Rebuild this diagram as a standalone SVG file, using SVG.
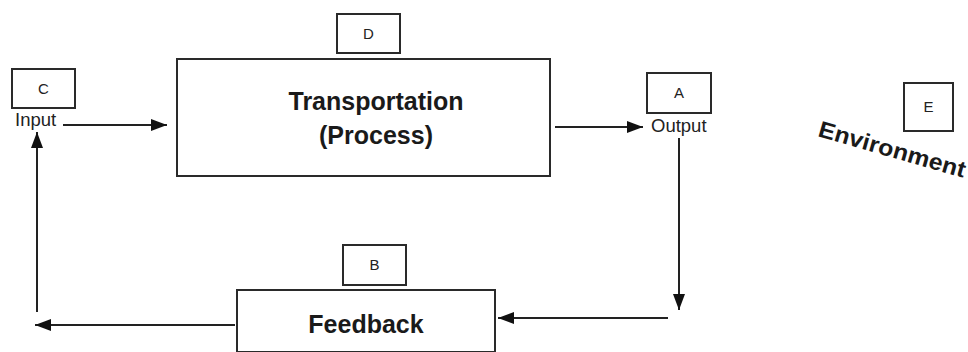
<svg xmlns="http://www.w3.org/2000/svg" width="968" height="352" viewBox="0 0 968 352">
<style>
.box{fill:#fff;stroke:#2a2a2a;stroke-width:2}
.lbl{font-family:"Liberation Sans",Arial,sans-serif;font-size:15px;fill:#222;text-anchor:middle}
.sm{font-family:"Liberation Sans",Arial,sans-serif;font-size:18.5px;fill:#222}
.big{font-family:"Liberation Sans",Arial,sans-serif;font-size:25px;font-weight:bold;fill:#1a1a1a;text-anchor:middle}
.ln{fill:none;stroke:#222;stroke-width:2}
</style>
<defs>
<marker id="ah" viewBox="0 0 10 10" refX="10" refY="5" markerWidth="16" markerHeight="12" markerUnits="userSpaceOnUse" orient="auto" preserveAspectRatio="none">
<path d="M0,0 L10,5 L0,10 z" fill="#111"/>
</marker>
</defs>
<rect width="968" height="352" fill="#fff"/>
<g id="process">
<rect class="box" x="177" y="59" width="373" height="117"/>
<text class="big" x="376" y="110">Transportation</text>
<text class="big" x="376" y="144">(Process)</text>
</g>
<g id="label-d">
<rect class="box" x="337" y="14" width="63" height="39"/>
<text class="lbl" x="368.5" y="39">D</text>
</g>
<g id="input">
<rect class="box" x="12" y="69" width="63" height="39"/>
<text class="lbl" x="43.5" y="94">C</text>
<text class="sm" x="15" y="126">Input</text>
</g>
<g id="output">
<rect class="box" x="647" y="73" width="64" height="40"/>
<text class="lbl" x="679" y="98">A</text>
<text class="sm" x="651" y="132">Output</text>
</g>
<g id="feedback">
<rect class="box" x="237" y="290" width="258" height="62"/>
<text class="big" x="366" y="333">Feedback</text>
</g>
<g id="label-b">
<rect class="box" x="343" y="245" width="63" height="40"/>
<text class="lbl" x="374.5" y="270">B</text>
</g>
<g id="environment">
<rect class="box" x="904" y="83" width="49" height="48"/>
<text class="lbl" x="928.5" y="112">E</text>
<text font-family="'Liberation Sans',Arial,sans-serif" font-size="23" font-weight="bold" fill="#1a1a1a" transform="translate(817,136) rotate(16)" textLength="152" lengthAdjust="spacingAndGlyphs">Environment</text>
</g>
<g id="connectors">
<line class="ln" x1="63" y1="125" x2="167" y2="125" marker-end="url(#ah)"/>
<line class="ln" x1="555" y1="127" x2="643" y2="127" marker-end="url(#ah)"/>
<line class="ln" x1="679" y1="138" x2="679" y2="310" marker-end="url(#ah)"/>
<line class="ln" x1="668" y1="318" x2="498" y2="318" marker-end="url(#ah)"/>
<line class="ln" x1="235" y1="325" x2="35" y2="325" marker-end="url(#ah)"/>
<line class="ln" x1="37" y1="312" x2="37" y2="132" marker-end="url(#ah)"/>
</g>
</svg>
